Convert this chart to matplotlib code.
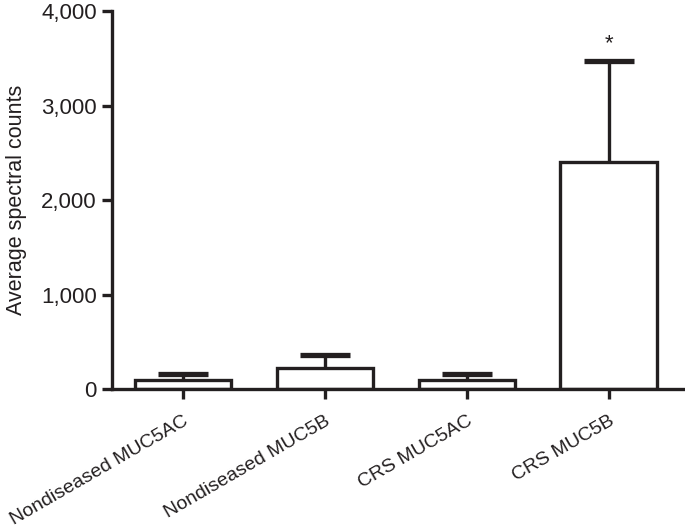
import matplotlib
matplotlib.use("Agg")
import matplotlib.pyplot as plt

categories = ["Nondiseased MUC5AC", "Nondiseased MUC5B", "CRS MUC5AC", "CRS MUC5B"]
means = [95, 225, 90, 2400]
errors = [65, 135, 70, 1070]
yticks = [0, 1000, 2000, 3000, 4000]
ytick_labels = ["0", "1,000", "2,000", "3,000", "4,000"]

plt.rcParams['font.family'] = ['Liberation Sans', 'DejaVu Sans']
fig = plt.figure(figsize=(6.85, 5.27), dpi=100)
ax = fig.add_axes([0.1635, 0.2619, 0.835, 0.717])

ink = '#231f20'
lw = 2.4
fs = 16
x = list(range(len(categories)))
ax.bar(x, means, width=0.68, color='white', edgecolor=ink, linewidth=lw, zorder=2)
_, caps, _ = ax.errorbar(x, means, yerr=[[0]*len(errors), errors], fmt='none', ecolor=ink,
                         elinewidth=lw, capsize=18, capthick=lw + 1.4, zorder=1)
caps[0].set_visible(False)
ax.text(3, means[3] + errors[3] + 70, "*", ha='center', va='bottom', fontsize=fs, color=ink)

ax.set_xlim(-0.5, 3.53)
ax.set_ylim(0, 4000)
ax.set_yticks(yticks)
ax.set_yticklabels(ytick_labels, fontsize=fs, color=ink)
ax.set_xticks(x)
ax.set_xticklabels(categories, rotation=30, ha='right', va='top', rotation_mode='anchor',
                   fontsize=14, color=ink)
ax.set_ylabel("Average spectral counts", fontsize=15.5, labelpad=10, color=ink)

for s in ['top', 'right']:
    ax.spines[s].set_visible(False)
for s in ['left', 'bottom']:
    ax.spines[s].set_linewidth(lw)
    ax.spines[s].set_color(ink)
ax.tick_params(axis='both', width=lw, length=7, color=ink, direction='out')
ax.tick_params(axis='x', pad=10)
ax.tick_params(axis='y', pad=4)

fig.savefig("out.png", dpi=100)
